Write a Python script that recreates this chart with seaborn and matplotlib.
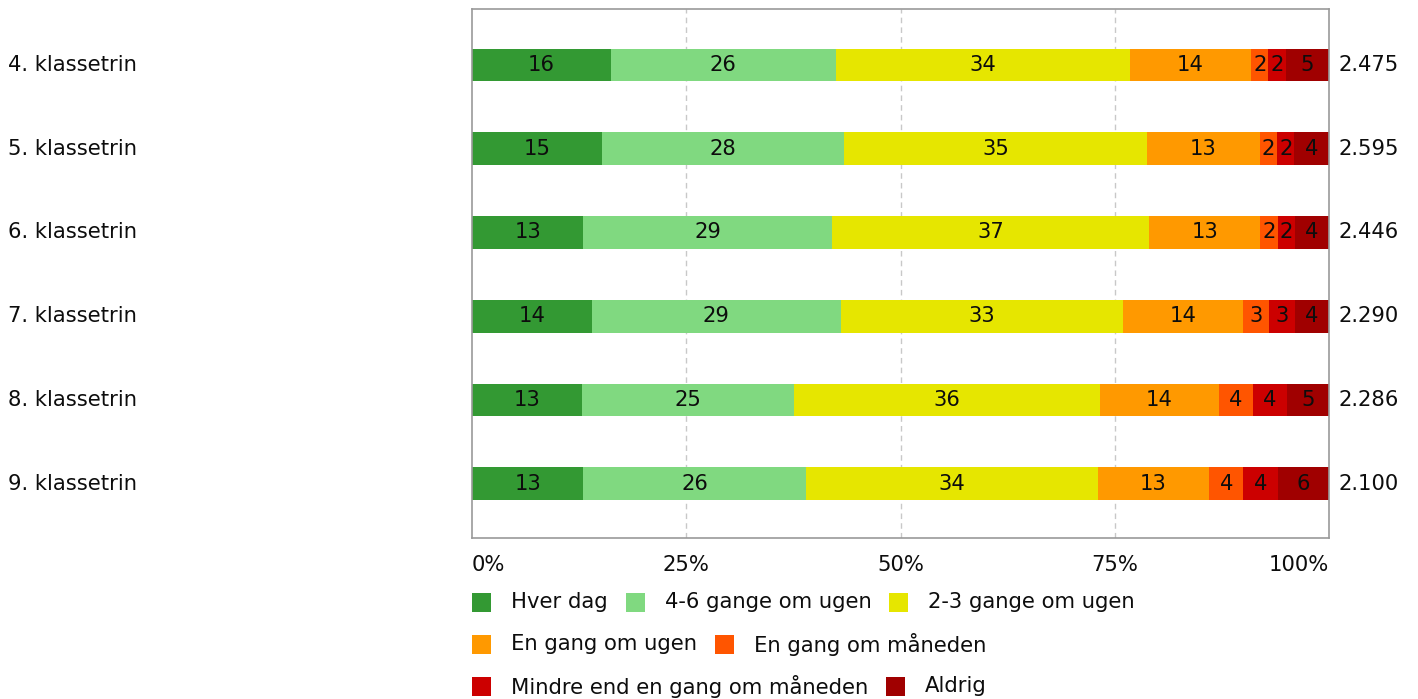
import matplotlib
matplotlib.use("Agg")
import matplotlib.pyplot as plt
from matplotlib.patches import Rectangle
from matplotlib.transforms import blended_transform_factory, offset_copy
import numpy as np
import pandas as pd
import seaborn as sns

# ---- data ----
grades = ["4. klassetrin", "5. klassetrin", "6. klassetrin",
          "7. klassetrin", "8. klassetrin", "9. klassetrin"]
answers = ["Hver dag", "4-6 gange om ugen", "2-3 gange om ugen",
           "En gang om ugen", "En gang om måneden",
           "Mindre end en gang om måneden", "Aldrig"]
hver_dag = [16, 15, 13, 14, 13, 13]
gange_4_6 = [26, 28, 29, 29, 25, 26]
gange_2_3 = [34, 35, 37, 33, 36, 34]
en_gang_uge = [14, 13, 13, 14, 14, 13]
en_gang_maaned = [2, 2, 2, 3, 4, 4]
mindre_end_maaned = [2, 2, 2, 3, 4, 4]
aldrig = [5, 4, 4, 4, 5, 6]
averages = [2.475, 2.595, 2.446, 2.290, 2.286, 2.100]
xticks = [0, 25, 50, 75, 100]
xtick_labels = ["0%", "25%", "50%", "75%", "100%"]

colors = ["#339933", "#80d980", "#e6e600", "#ff9900",
          "#ff5500", "#cc0000", "#a00000"]

series = [hver_dag, gange_4_6, gange_2_3, en_gang_uge,
          en_gang_maaned, mindre_end_maaned, aldrig]
values = np.array(series, dtype=float).T          # rows = grades
shares = values / values.sum(axis=1, keepdims=True) * 100
cum = np.cumsum(shares, axis=1)

sns.set_theme(style="white")
plt.rcParams["font.family"] = ["DejaVu Sans"]
FS = 15.2
TXT = "#0d0d0d"

W, H = 1418, 699
fig = plt.figure(figsize=(W / 100, H / 100), dpi=100)
ax_l, ax_r, ax_t, ax_b = 472, 1329, 9, 538
ax = fig.add_axes([ax_l / W, 1 - ax_b / H, (ax_r - ax_l) / W, (ax_b - ax_t) / H])

# stacked bars: draw cumulative totals from the outermost layer inwards
for k in range(len(answers) - 1, -1, -1):
    df = pd.DataFrame({"grade": grades, "cum": cum[:, k]})
    sns.barplot(data=df, x="cum", y="grade", order=grades, orient="h",
                color=colors[k], saturation=1, width=0.39,
                linewidth=0, ax=ax)

# segment value labels
for i in range(len(grades)):
    left = 0.0
    for k in range(len(answers)):
        mid = left + shares[i, k] / 2
        ax.text(mid, i, f"{int(values[i, k])}", ha="center", va="center",
                fontsize=FS, color=TXT)
        left = cum[i, k]

ax.set_xlim(0, 100)
ax.set_ylim(5.65, -0.67)
ax.set_xlabel("")
ax.set_ylabel("")

# grid lines
for g in xticks[1:-1]:
    ax.axvline(g, color="#c8c8c8", linestyle=(0, (4, 3)), linewidth=1, zorder=0)

for s in ax.spines.values():
    s.set_color("#999999")
    s.set_linewidth(1.2)

ax.set_yticks([])
ax.set_xticks(xticks)
ax.set_xticklabels(xtick_labels, fontsize=FS, color=TXT)
ax.tick_params(axis="x", length=0, pad=12)
ax.get_xticklabels()[0].set_ha("left")
ax.get_xticklabels()[-1].set_ha("right")

# category names at the left edge of the figure
tr_left = blended_transform_factory(fig.transFigure, ax.transData)
for i, name in enumerate(grades):
    ax.text(8 / W, i, name, transform=tr_left, ha="left", va="center",
            fontsize=FS, color=TXT)

# mean values right of the bars
tr_right = offset_copy(blended_transform_factory(ax.transAxes, ax.transData),
                       fig=fig, x=9, y=0, units="dots")
for i, v in enumerate(averages):
    ax.text(1.0, i, f"{v:.3f}", transform=tr_right, ha="left", va="center",
            fontsize=FS, color=TXT)

# flowing legend below the axis
renderer = fig.canvas.get_renderer()
sq, gap_txt, gap_item = 19, 20, 18
row_y = [602, 644, 686]
x, row = ax_l, 0
for name, c in zip(answers, colors):
    t = fig.text(0, 0, name, fontsize=FS, color=TXT, ha="left", va="center")
    tw = t.get_window_extent(renderer).width
    if x > ax_l and x + sq + gap_txt + tw > ax_r:
        x, row = ax_l, row + 1
    cy = row_y[row]
    fig.patches.append(Rectangle((x / W, 1 - (cy + sq / 2) / H), sq / W, sq / H,
                                 transform=fig.transFigure, facecolor=c,
                                 edgecolor="none"))
    t.set_position(((x + sq + gap_txt) / W, 1 - cy / H))
    x = x + sq + gap_txt + tw + gap_item

fig.savefig("out.png", dpi=100)
